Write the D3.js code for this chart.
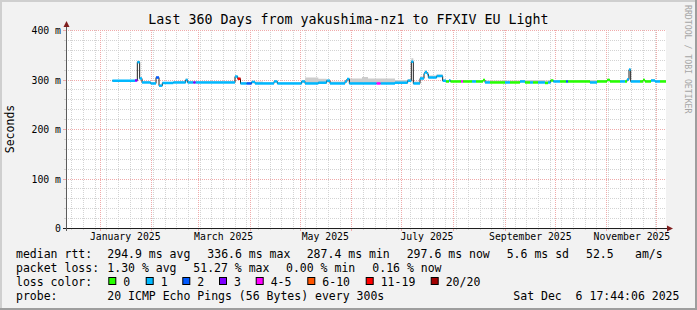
<!DOCTYPE html>
<html><head><meta charset="utf-8">
<script src="https://cdn.jsdelivr.net/npm/d3@7/dist/d3.min.js"></script>
<style>
html,body{margin:0;padding:0;background:#f2f2f2;}
svg{display:block;}
text{font-family:"DejaVu Sans Mono",monospace;white-space:pre;}
</style></head><body><svg id="c" width="697" height="310"></svg>
<script>
// ---------------- data ----------------
const title = "Last 360 Days from yakushima-nz1 to FFXIV EU Light";
const yAxisTitle = "Seconds";
const yTickValues = [0, 100, 200, 300, 400];
const yTickLabels = ["0", "100 m", "200 m", "300 m", "400 m"];
const xTickMonths = ["2025-01-01", "2025-03-01", "2025-05-01", "2025-07-01", "2025-09-01", "2025-11-01"];
const xTickLabels = ["January 2025", "March 2025", "May 2025", "July 2025", "September 2025", "November 2025"];
const windowDays = 360;
const endTime = "2025-12-06T17:44:06Z";

// step segments: start day (offset from window start), median rtt (ms), loss class, smoke top (ms)
const segDay = [27.8, 41.4, 42.8, 44.2, 45.6, 50.8, 54.0, 55.8, 57.8, 64.4, 71.8, 73.0, 76.4, 77.8,
  101.4, 103.0, 104.7, 108.4, 111.4, 113.4, 118.2, 124.8, 126.8, 141.4, 143.4, 151.4, 156.4, 158.4,
  167.4, 168.6, 170.0, 177.6, 181.2, 186.4, 188.8, 197.4, 205.0, 207.2, 208.4, 212.4, 214.8, 215.4,
  216.6, 217.4, 222.4, 226.0, 228.0, 229.8, 230.7, 237.0, 238.2, 243.6, 246.0, 250.2, 251.4, 254.4,
  263.4, 266.4, 272.4, 275.4, 278.4, 280.2, 283.2, 287.4, 289.2, 290.8, 292.4, 296.4, 300.0, 301.2,
  314.4, 318.6, 324.6, 326.4, 332.4, 335.4, 336.6, 337.8, 338.8, 344.4, 346.2, 347.4, 351.0, 353.4, 356.4];
const segMedian = [297.5, 298, 335, 302, 294, 292, 304, 287.5, 293, 294, 299, 294, 294, 294,
  306, 301.5, 292, 292, 295, 292, 292, 296, 292, 296, 292, 293.5, 297.5, 292,
  296, 301, 292, 292, 292, 292, 292, 293.5, 297.5, 336, 292, 302, 312, 315,
  311, 304, 307, 297.5, 296, 298, 296, 296, 296, 296, 296, 299, 294, 294,
  294, 294, 296, 294, 294, 294, 294, 293, 294, 298, 296, 296, 296, 296,
  294, 296, 299, 296, 296, 296, 300, 320, 296, 296, 299, 296, 298, 296, 296];
const segLoss = [1, 3, 1, 1, 1, 1, 2, 1, 1, 1, 1, 1, 3, 1,
  1, 6, 1, 2, 1, 1, 1, 1, 1, 1, 1, 1, 1, 1,
  1, 1, 1, 1, 1, 4, 1, 1, 1, 1, 1, 1, 1, 1,
  1, 1, 1, 1, 0, 1, 0, 4, 0, 1, 0, 0, 1, 0,
  1, 0, 1, 0, 1, 0, 1, 0, 1, 0, 1, 0, 2, 0,
  1, 0, 0, 0, 1, 0, 1, 1, 1, 0, 0, 0, 1, 1, 0];
const segSmoke = [299, 300, 338, 304, 296, 294, 306, 290, 295, 296, 302, 296, 296, 296,
  308, 304, 294, 295, 297, 296, 294, 298, 294, 298, 304, 301.5, 300, 296,
  299, 303, 302, 305, 302, 302, 302, 299, 301, 343, 296, 306, 316, 318,
  315, 308, 310, 300, 299, 300, 299, 299, 299, 299, 299, 301, 298, 298,
  298, 298, 299, 299, 299, 299, 299, 298, 299, 300, 299, 299, 299, 299,
  299, 299, 301, 299, 299, 299, 302, 322, 299, 299, 301, 299, 300, 299, 299];
const dataEndDay = 360;

const lossLabels = ["0", "1", "2", "3", "4-5", "6-10", "11-19", "20/20"];
const lossColors = ["#26ff00", "#00b8ff", "#0059ff", "#7e00ff", "#ff00ff", "#ff5500", "#ff0000", "#a10000"];
const rttStats = ["median rtt:", "294.9 ms avg", "336.6 ms max", "287.4 ms min", "297.6 ms now", "5.6 ms sd", "52.5", "am/s"];
const lossStats = ["packet loss:", "1.30 % avg", "51.27 % max", "0.00 % min", "0.16 % now"];
const probeInfo = ["probe:", "20 ICMP Echo Pings (56 Bytes) every 300s", "Sat Dec  6 17:44:06 2025"];
const watermark = "RRDTOOL / TOBI OETIKER";

// ---------------- layout ----------------
const W = 697, H = 310;
const PL = 66, PR = 666, PT = 30, PB = 228;
const rttX = [16, 107.3, 207.3, 306.7, 406.7, 506.7, 586, 635];
const lossX = [16, 107.3, 193.3, 286, 372.3];
const boxX = [108.3, 145.7, 182.3, 219, 255.7, 307.3, 365.7, 430.7];
const probeX = [16, 107.3, 513.3];
const legendFont = 11.5;

const svg = d3.select("#c");
const end = new Date(endTime);
const start = new Date(+end - windowDays * 864e5);
const dayToDate = d => new Date(+start + d * 864e5);

const x = d3.scaleUtc().domain([start, end]).range([PL, PR]);
const y = d3.scaleLinear().domain([0, 400]).range([PB, PT]);
const cr = v => Math.round(v) + 0.5;

// background & frame
svg.append("rect").attr("width", W).attr("height", H).attr("fill", "#f2f2f2");
svg.append("rect").attr("x", PL).attr("y", PT).attr("width", PR - PL).attr("height", PB - PT).attr("fill", "#fff");
svg.append("rect").attr("x", 0).attr("y", 0).attr("width", W).attr("height", 2).attr("fill", "#cfcfcf");
svg.append("rect").attr("x", 0).attr("y", 0).attr("width", 2).attr("height", H).attr("fill", "#cfcfcf");
svg.append("rect").attr("x", 0).attr("y", H - 2).attr("width", W).attr("height", 2).attr("fill", "#9e9e9e");
svg.append("rect").attr("x", W - 2).attr("y", 0).attr("width", 2).attr("height", H).attr("fill", "#9e9e9e");

// grid
const grid = svg.append("g");
const minorC = "#d3d3d3", majorC = "#f0aaaa";
const weeks = d3.utcSunday.range(start, end);
const months = d3.utcMonth.range(start, end);
weeks.forEach(d => {
  const xx = cr(x(d));
  grid.append("line").attr("x1", xx).attr("x2", xx).attr("y1", PT).attr("y2", PB)
    .attr("stroke", minorC).attr("stroke-dasharray", "1,1");
  grid.append("line").attr("x1", xx).attr("x2", xx).attr("y1", PB).attr("y2", PB + 2).attr("stroke", minorC);
});
d3.range(20, 400, 20).filter(v => v % 100 !== 0).forEach(v => {
  const yy = cr(y(v));
  grid.append("line").attr("x1", PL).attr("x2", PR).attr("y1", yy).attr("y2", yy)
    .attr("stroke", minorC).attr("stroke-dasharray", "1,1");
  grid.append("line").attr("x1", PL - 2).attr("x2", PL).attr("y1", yy).attr("y2", yy).attr("stroke", minorC);
});
months.forEach(d => {
  const xx = cr(x(d));
  grid.append("line").attr("x1", xx).attr("x2", xx).attr("y1", PT).attr("y2", PB)
    .attr("stroke", majorC).attr("stroke-dasharray", "1,1");
  grid.append("line").attr("x1", xx).attr("x2", xx).attr("y1", PB).attr("y2", PB + 3).attr("stroke", majorC);
});
yTickValues.filter(v => v > 0).forEach(v => {
  const yy = cr(y(v));
  grid.append("line").attr("x1", PL).attr("x2", PR).attr("y1", yy).attr("y2", yy)
    .attr("stroke", majorC).attr("stroke-dasharray", "1,1");
  grid.append("line").attr("x1", PL - 3).attr("x2", PL).attr("y1", yy).attr("y2", yy).attr("stroke", majorC);
});

// data
const pts = segDay.map((d, i) => ({ t: dayToDate(d), m: segMedian[i], l: segLoss[i], s: segSmoke[i] }));
const stepPts = pts.concat([{ t: dayToDate(dataEndDay), m: segMedian[segMedian.length - 1], s: segSmoke[segSmoke.length - 1] }]);

svg.append("path").datum(stepPts)
  .attr("fill", "#cccccc")
  .attr("d", d3.area().curve(d3.curveStepAfter).x(d => x(d.t)).y0(d => y(d.m)).y1(d => y(d.s)));

svg.append("path").datum(stepPts)
  .attr("fill", "none").attr("stroke", "#202020").attr("stroke-width", 1)
  .attr("d", d3.line().curve(d3.curveStepAfter).x(d => x(d.t)).y(d => y(d.m)));

svg.append("g").selectAll("rect").data(pts).join("rect")
  .attr("x", (d, i) => x(d.t))
  .attr("width", (d, i) => x(stepPts[i + 1].t) - x(d.t))
  .attr("y", d => y(d.m) - 1.25)
  .attr("height", 2.5)
  .attr("fill", d => lossColors[d.l]);

// axes lines
svg.append("line").attr("x1", PL - 3).attr("x2", PR + 2).attr("y1", PB + 0.5).attr("y2", PB + 0.5).attr("stroke", "#1f1f1f");
svg.append("line").attr("x1", PL + 0.5).attr("x2", PL + 0.5).attr("y1", PB + 3).attr("y2", PT - 6).attr("stroke", "#5c5c5c");
svg.append("path").attr("d", `M${PR + 7},${PB + 0.5}L${PR + 1},${PB - 2.5}L${PR + 1},${PB + 3.5}Z`).attr("fill", "#801f1f");
svg.append("path").attr("d", `M${PL + 0.5},${PT - 9}L${PL - 2.5},${PT - 3}L${PL + 3.5},${PT - 3}Z`).attr("fill", "#801f1f");

// axis labels via d3 axes
const yAx = svg.append("g").attr("transform", `translate(${PL - 5},0)`)
  .call(d3.axisLeft(y).tickValues(yTickValues).tickFormat((d, i) => yTickLabels[i]).tickSize(0).tickPadding(0));
yAx.select(".domain").remove();
yAx.selectAll("text").attr("font-family", "DejaVu Sans Mono").attr("font-size", 9.8).attr("fill", "#000").attr("dy", "0.36em");

const labelDates = xTickMonths.map(s => new Date(+new Date(s + "T00:00:00Z") + 15 * 864e5));
const xAx = svg.append("g").attr("transform", `translate(0,${PB})`)
  .call(d3.axisBottom(x).tickValues(labelDates).tickFormat((d, i) => xTickLabels[i]).tickSize(0).tickPadding(5.5));
xAx.select(".domain").remove();
xAx.selectAll("text").attr("font-family", "DejaVu Sans Mono").attr("font-size", 9.8).attr("fill", "#000");

// title etc.
svg.append("text").attr("x", W / 2).attr("y", 24).attr("text-anchor", "middle")
  .attr("font-size", 13.3).attr("fill", "#000").text(title);
svg.append("text").attr("transform", `translate(14,${(PT + PB) / 2}) rotate(-90)`).attr("text-anchor", "middle")
  .attr("font-size", 11.5).attr("fill", "#000").text(yAxisTitle);
svg.append("text").attr("transform", `translate(684.5,5) rotate(90)`)
  .attr("font-size", 8.2).attr("fill", "#a6a6a6").text(watermark);

// legend
const leg = svg.append("g").attr("font-size", legendFont).attr("fill", "#000");
rttStats.forEach((s, i) => leg.append("text").attr("x", rttX[i]).attr("y", 258).text(s));
lossStats.forEach((s, i) => leg.append("text").attr("x", lossX[i]).attr("y", 272).text(s));
leg.append("text").attr("x", 16).attr("y", 286).text("loss color:");
lossLabels.forEach((s, i) => {
  leg.append("rect").attr("x", boxX[i] + 0.5).attr("y", 277.5).attr("width", 7).attr("height", 7)
    .attr("fill", lossColors[i]).attr("stroke", "#000").attr("stroke-width", 1);
  leg.append("text").attr("x", boxX[i] + 15).attr("y", 286).text(s);
});
probeInfo.forEach((s, i) => leg.append("text").attr("x", probeX[i]).attr("y", 300).text(s));
</script></body></html>
